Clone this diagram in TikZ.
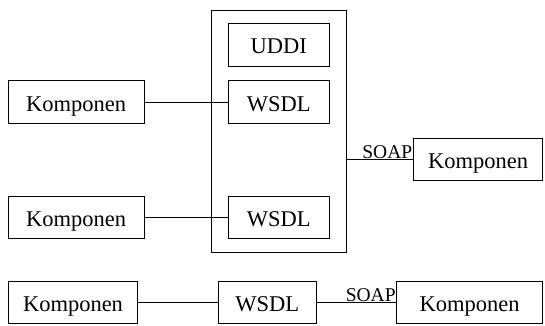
\documentclass[tikz,border=0pt]{standalone}
\usepackage{fontspec}
\setmainfont{Liberation Serif}
\begin{document}
\begin{tikzpicture}[x=1pt,y=-1pt,
  box/.style={draw,line width=0.8pt,inner sep=0pt,text height=18pt,text depth=0pt,
    font=\fontsize{22.5}{24}\selectfont},
  wire/.style={line width=0.8pt},
  lbl/.style={inner sep=0.5pt,font=\fontsize{19.5}{21}\selectfont}]
\useasboundingbox (0,0) rectangle (545,325);
% container for the registry and descriptions
\node[box,minimum width=134.5pt,minimum height=242.5pt] (outer) at (278.75,131.25) {};
\node[box,minimum width=101.3pt,minimum height=42.7pt] (uddi) at (278.65,44.65) {UDDI};
\node[box,minimum width=101.3pt,minimum height=42.6pt] (w1) at (278.65,102) {WSDL};
\node[box,minimum width=101.3pt,minimum height=42.3pt] (w2) at (278.65,217.15) {WSDL};
% components
\node[box,minimum width=135.7pt,minimum height=42.6pt] (k1) at (76.15,102) {Komponen};
\node[box,minimum width=135.7pt,minimum height=42.3pt] (k2) at (76.15,217.15) {Komponen};
\node[box,minimum width=129.4pt,minimum height=42.4pt] (kr) at (478,159.5) {Komponen};
% bottom row
\node[box,minimum width=129.4pt,minimum height=41.6pt] (bk) at (73,302.5) {Komponen};
\node[box,minimum width=97.7pt,minimum height=41.6pt] (bw) at (267.15,302.5) {WSDL};
\node[box,minimum width=146pt,minimum height=41.6pt] (bkr) at (469.7,302.5) {Komponen};
% connectors
\draw[wire] (k1) -- (w1);
\draw[wire] (k2) -- (w2);
\coordinate (soapA) at (kr.west -| outer.east);
\draw[wire] (soapA) -- (kr.west);
\node[lbl,anchor=south east] (soap1) at (kr.west) {SOAP};
\draw[wire] (bk) -- (bw);
\draw[wire] (bw) -- (bkr);
\node[lbl,anchor=south east] (soap2) at (bkr.west) {SOAP};
\end{tikzpicture}
\end{document}
